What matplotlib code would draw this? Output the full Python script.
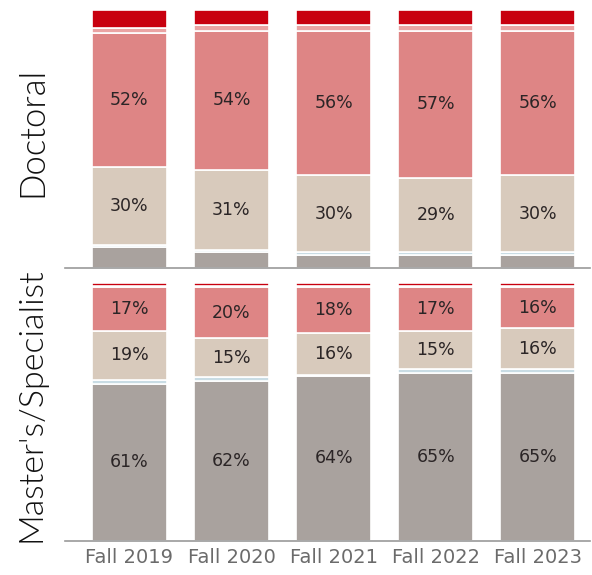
import matplotlib.pyplot as plt
import numpy as np

plt.rcParams['font.family'] = ['DejaVu Sans']

years = ['Fall 2019', 'Fall 2020', 'Fall 2021', 'Fall 2022', 'Fall 2023']

# shares by program level, stacked bottom to top
doc_gray = [8, 6, 5, 5, 5]
doc_blue = [1, 1, 1, 1, 1]
doc_tan = [30, 31, 30, 29, 30]
doc_pink = [52, 54, 56, 57, 56]
doc_light = [2, 2, 2, 2, 2]
doc_dark = [7, 6, 6, 6, 6]

ms_gray = [61, 62, 64, 65, 65]
ms_blue = [1.5, 1.5, 0.5, 1.5, 1.5]
ms_tan = [19, 15, 16, 15, 16]
ms_pink = [17, 20, 18, 17, 16]
ms_light = [0.5, 0.5, 0.5, 0.5, 0.5]
ms_dark = [1, 1, 1, 1, 1]

colors = ['#a9a29e', '#c9dce4', '#d8cabc', '#de8585', '#eaa3a3', '#c8000f']


def draw_panel(ax, series, labelled):
    x = np.arange(len(years))
    bottom = np.zeros(len(years))
    for i, vals in enumerate(series):
        vals = np.array(vals, dtype=float)
        ax.bar(x, vals, 0.735, bottom=bottom, color=colors[i],
               edgecolor='white', linewidth=1.2)
        if i in labelled:
            for xi, v, b in zip(x, vals, bottom):
                ax.text(xi, b + v / 2, f'{v:.0f}%', ha='center', va='center',
                        fontsize=12.5, color='#2b2526')
        bottom += vals
    ax.set_xlim(-0.63, 4.51)
    ax.set_ylim(0, 100)
    ax.set_yticks([])
    for s in ['top', 'right', 'left']:
        ax.spines[s].set_visible(False)
    ax.spines['bottom'].set_color('#9a9a9a')
    ax.spines['bottom'].set_linewidth(1.2)


fig = plt.figure(figsize=(5.92, 5.75), dpi=100)
ax_doc = fig.add_axes([0.1098, 0.534, 0.8868, 0.4487])
ax_ms = fig.add_axes([0.1098, 0.0591, 0.8868, 0.4487])

draw_panel(ax_doc, [doc_gray, doc_blue, doc_tan, doc_pink, doc_light, doc_dark], [2, 3])
draw_panel(ax_ms, [ms_gray, ms_blue, ms_tan, ms_pink, ms_light, ms_dark], [0, 2, 3])

ax_doc.set_xticks([])
ax_ms.set_xticks(np.arange(len(years)))
ax_ms.set_xticklabels(years, fontsize=14, color='#6b6b6b')
ax_ms.tick_params(axis='x', length=0, pad=5)

fig.text(0.054, 0.77, 'Doctoral', rotation=90, ha='center', va='center',
         fontsize=25, fontweight=300, color='#111111', family='Lato')
fig.text(0.054, 0.296, "Master's/Specialist", rotation=90, ha='center', va='center',
         fontsize=24.5, fontweight=300, color='#111111', family='Lato')

fig.savefig('out.png', dpi=100)
